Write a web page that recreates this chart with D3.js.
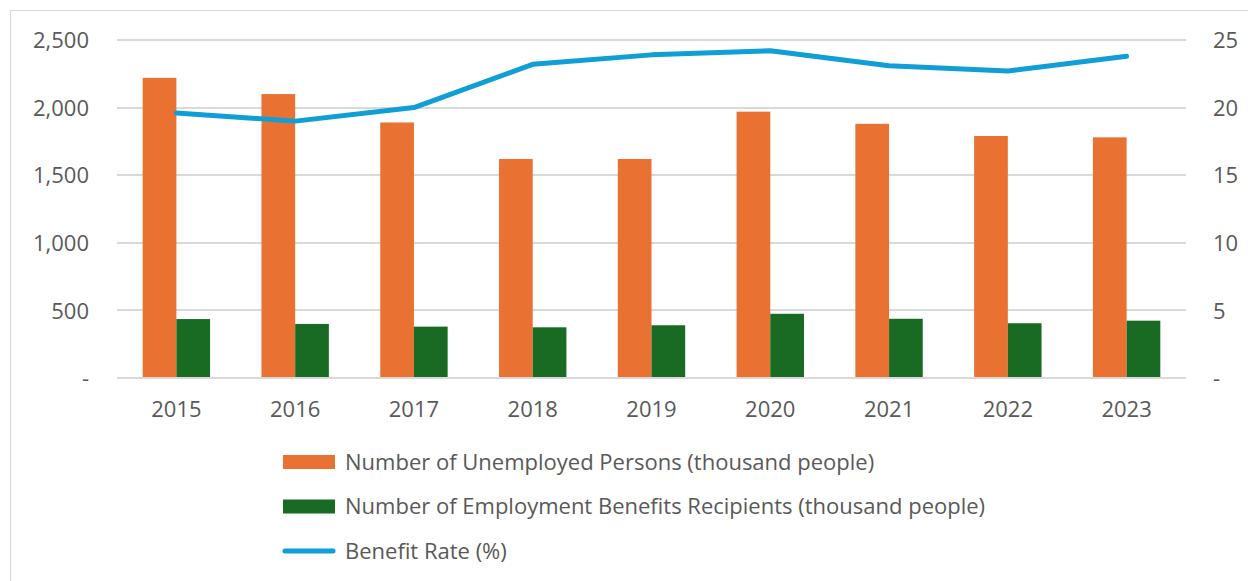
<!DOCTYPE html>
<html>
<head>
<meta charset="utf-8">
<script src="https://cdn.jsdelivr.net/npm/d3@7"></script>
<style>
  body { margin: 0; background: #fff; }
  svg text { font-family: "Open Sans", "Liberation Sans", sans-serif; fill: #595959; }
</style>
</head>
<body>
<svg width="1248" height="581"></svg>
<script>
// values
var years = ["2015", "2016", "2017", "2018", "2019", "2020", "2021", "2022", "2023"];
var unemployed = [2220, 2100, 1890, 1620, 1620, 1970, 1880, 1790, 1780];
var recipients = [436, 400, 380, 375, 390, 475, 438, 405, 424];
var benefitRate = [19.6, 19.0, 20.0, 23.2, 23.9, 24.2, 23.1, 22.7, 23.8];
var leftTicks = [0, 500, 1000, 1500, 2000, 2500];
var rightTicks = [0, 5, 10, 15, 20, 25];
var seriesNames = [
  "Number of Unemployed Persons (thousand people)",
  "Number of Employment Benefits Recipients (thousand people)",
  "Benefit Rate (%)"
];

var orange = "#E97132", green = "#196B24", blue = "#0F9ED5";

var svg = d3.select("svg");

// chart frame
svg.append("rect")
    .attr("x", 10.5).attr("y", 10.5)
    .attr("width", 1240).attr("height", 580)
    .attr("fill", "none").attr("stroke", "#d9d9d9");

var plotLeft = 117, plotRight = 1186, plotTop = 40, plotBottom = 378;

var x = d3.scaleBand().domain(years).range([plotLeft, plotRight]);
var inner = d3.scaleBand().domain([0, 1]).range([0, 67.4]);
var y = d3.scaleLinear().domain([0, 2500]).range([plotBottom, plotTop]);
var y2 = d3.scaleLinear().domain([0, 25]).range([plotBottom, plotTop]);

var fmt = function(d) { return d === 0 ? "-" : d3.format(",")(d); };

// gridlines
svg.append("g")
    .selectAll("line")
    .data(leftTicks)
    .enter().append("line")
      .attr("x1", plotLeft).attr("x2", plotRight)
      .attr("y1", function(d) { return Math.round(y(d)); })
      .attr("y2", function(d) { return Math.round(y(d)); })
      .attr("stroke", "#d9d9d9")
      .attr("stroke-width", 2);

// left axis
var yAxis = svg.append("g")
    .attr("transform", "translate(" + plotLeft + ",0)")
    .call(d3.axisLeft(y).tickValues(leftTicks).tickFormat(fmt).tickSize(0).tickPadding(28));
yAxis.select(".domain").remove();
yAxis.selectAll("text").style("font-size", "22px").attr("dy", "0.35em");

// right axis
var y2Axis = svg.append("g")
    .attr("transform", "translate(" + plotRight + ",0)")
    .call(d3.axisRight(y2).tickValues(rightTicks).tickFormat(fmt).tickSize(0).tickPadding(27));
y2Axis.select(".domain").remove();
y2Axis.selectAll("text").style("font-size", "22px").attr("dy", "0.35em");

// bottom axis
var xAxis = svg.append("g")
    .attr("transform", "translate(0," + plotBottom + ")")
    .call(d3.axisBottom(x).tickSize(0).tickPadding(23));
xAxis.select(".domain").remove();
xAxis.selectAll("text").style("font-size", "22px");

// bars
var groupOffset = (x.bandwidth() - inner.range()[1]) / 2;
var group = svg.append("g")
    .selectAll("g")
    .data(years)
    .enter().append("g")
      .attr("transform", function(d) { return "translate(" + (x(d) + groupOffset) + ",0)"; });

group.append("rect")
    .attr("x", inner(0))
    .attr("width", inner.bandwidth())
    .attr("y", function(d, i) { return y(unemployed[i]); })
    .attr("height", function(d, i) { return plotBottom - 1 - y(unemployed[i]); })
    .attr("fill", orange);

group.append("rect")
    .attr("x", inner(1))
    .attr("width", inner.bandwidth())
    .attr("y", function(d, i) { return y(recipients[i]); })
    .attr("height", function(d, i) { return plotBottom - 1 - y(recipients[i]); })
    .attr("fill", green);

// benefit rate line
var line = d3.line()
    .x(function(d, i) { return x(years[i]) + x.bandwidth() / 2; })
    .y(function(d) { return y2(d); });

svg.append("path")
    .datum(benefitRate)
    .attr("d", line)
    .attr("fill", "none")
    .attr("stroke", blue)
    .attr("stroke-width", 5)
    .attr("stroke-linejoin", "round")
    .attr("stroke-linecap", "round");

// legend
var legend = svg.append("g")
    .selectAll("g")
    .data(seriesNames)
    .enter().append("g")
      .attr("transform", function(d, i) { return "translate(283," + (462 + i * 44.5) + ")"; });

legend.filter(function(d, i) { return i < 2; })
  .append("rect")
    .attr("x", 0).attr("y", -7)
    .attr("width", 52).attr("height", 14)
    .attr("fill", function(d, i) { return i === 0 ? orange : green; });

legend.filter(function(d, i) { return i === 2; })
  .append("line")
    .attr("x1", 2).attr("x2", 50)
    .attr("stroke", blue)
    .attr("stroke-width", 5)
    .attr("stroke-linecap", "round");

legend.append("text")
    .attr("x", 62)
    .attr("dy", "0.35em")
    .style("font-size", "22px")
    .text(function(d) { return d; });
</script>
</body>
</html>
